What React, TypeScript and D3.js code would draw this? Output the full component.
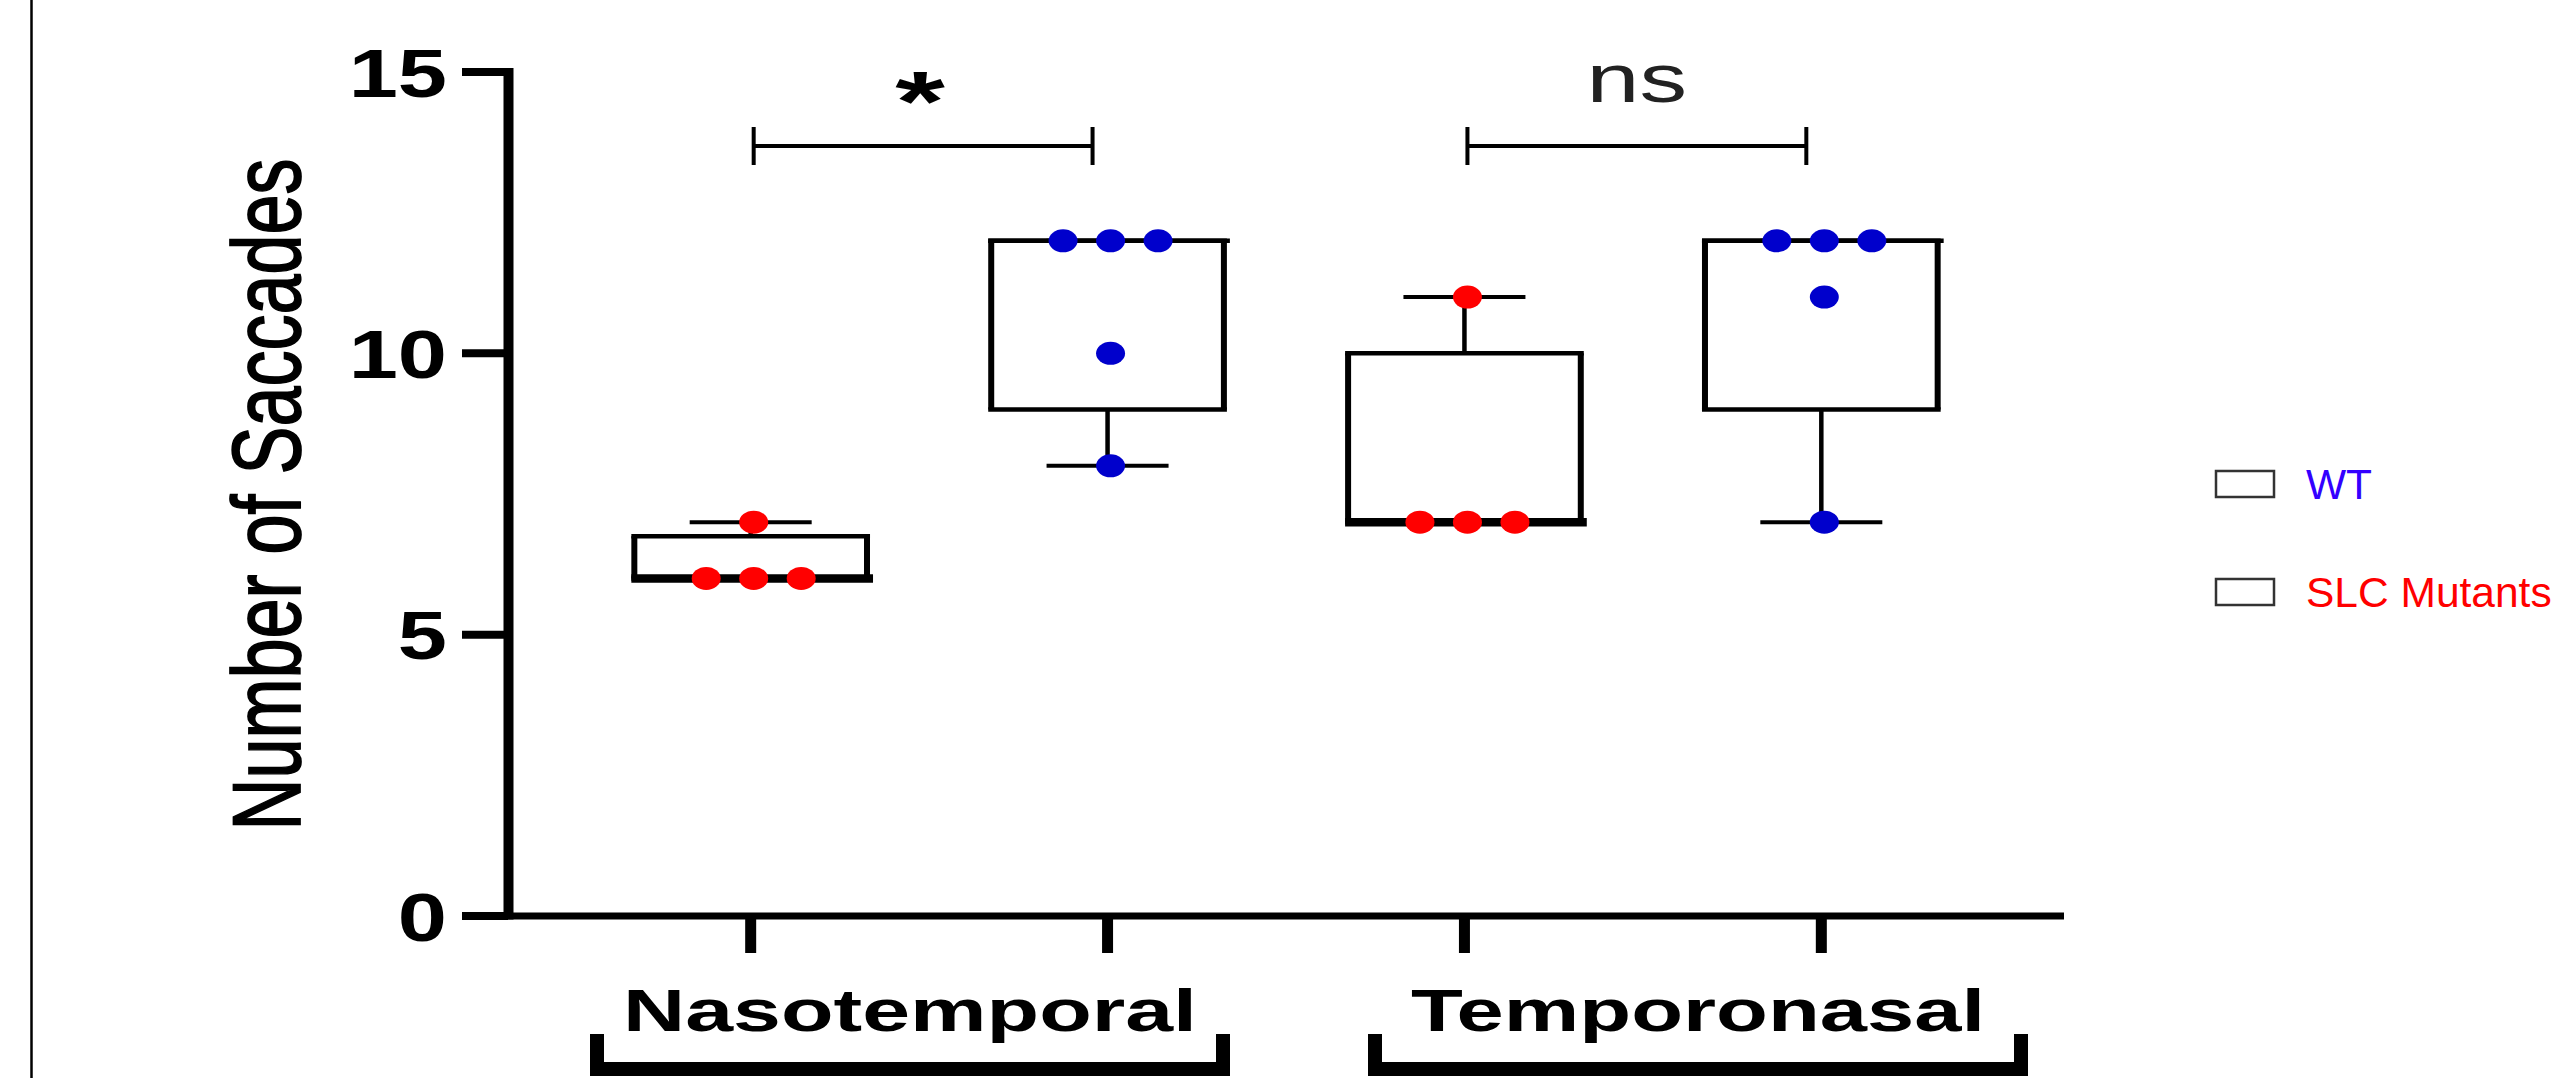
import React from "react";
import * as d3 from "d3";

// ---- data ----
const boxIds = ["naso-slc", "naso-wt", "temp-slc", "temp-wt"];
const boxGenotype = ["SLC Mutants", "WT", "SLC Mutants", "WT"];
const nasoSLC = [6, 6, 6, 7];
const nasoWT = [12, 12, 12, 10, 8];
const tempSLC = [7, 7, 7, 11];
const tempWT = [12, 12, 12, 11, 7];
const boxValues = [nasoSLC, nasoWT, tempSLC, tempWT];

const groupNames = ["Nasotemporal", "Temporonasal"];

const yTicks = [0, 5, 10, 15];
const yTitle = "Number of Saccades";

const sigLabels = ["*", "ns"];
const sigPairs = [[0, 1], [2, 3]];

const legendNames = ["WT", "SLC Mutants"];
const legendColors = ["#3300FF", "#FF0000"];
const dotColors: Record<string, string> = { WT: "#0000CC", "SLC Mutants": "#FF0000" };

// GraphPad-style quartile (n+1 basis)
function quant(sorted: number[], q: number) {
  const n = sorted.length;
  let p = q * (n + 1);
  if (p < 1) p = 1;
  if (p > n) p = n;
  const lo = Math.floor(p);
  const frac = p - lo;
  const a = sorted[lo - 1];
  const b = sorted[Math.min(lo, n - 1)];
  return a + frac * (b - a);
}

export default function App() {
  const W = 2555, H = 1078;
  const y = d3.scaleLinear().domain([0, 15]).range([916, 72]);
  const x = d3.scalePoint<string>().domain(boxIds).range([508, 2064]).padding(0.68);
  const step = x.step();
  const boxW = step * 0.652;
  const capW = 122;
  const dotGap = 47.5;
  const font = "'Liberation Sans', Arial, sans-serif";
  const stretch = 1.35;

  const boxes = boxValues.map((vals, i) => {
    const s = [...vals].sort((a, b) => a - b);
    return {
      id: boxIds[i],
      geno: boxGenotype[i],
      min: s[0],
      max: s[s.length - 1],
      q1: quant(s, 0.25),
      med: quant(s, 0.5),
      q3: quant(s, 0.75),
      vals,
    };
  });

  const groupCenters = [910, 1698];
  const groupHalf = [320, 330];

  return (
    <svg
      width={W}
      height={H}
      style={{ position: "fixed", left: 0, top: 0, background: "#fff" }}
      xmlns="http://www.w3.org/2000/svg"
    >
      <rect x={0} y={0} width={W} height={H} fill="#fff" />
      {/* left border */}
      <line x1={31.5} x2={31.5} y1={0} y2={H} stroke="#000" strokeWidth={2.5} />

      {/* y axis */}
      <line x1={508.5} x2={508.5} y1={y(15) - 4} y2={y(0) + 3.5} stroke="#000" strokeWidth={10} />
      {yTicks.map((t) => (
        <g key={t}>
          <line x1={462} x2={508} y1={y(t)} y2={y(t)} stroke="#000" strokeWidth={8} />
          <text
            transform={`translate(447,${y(t) + 24.5}) scale(1.3,1)`}
            textAnchor="end"
            fontFamily={font}
            fontWeight="bold"
            fontSize={68}
            fill="#000"
          >
            {t}
          </text>
        </g>
      ))}
      <text
        transform={`translate(300,494.5) scale(${stretch},1) rotate(-90)`}
        textAnchor="middle"
        fontFamily={font}
        fontSize={72}
        fill="#000"
        stroke="#000"
        strokeWidth={1.3}
      >
        {yTitle}
      </text>

      {/* x axis */}
      <line x1={504} x2={2064} y1={y(0)} y2={y(0)} stroke="#000" strokeWidth={7} />
      {boxIds.map((id) => (
        <line key={id} x1={x(id)!} x2={x(id)!} y1={y(0)} y2={953} stroke="#000" strokeWidth={11} />
      ))}

      {/* boxes */}
      {boxes.map((b) => {
        const cx = x(b.id)!;
        const l = cx - boxW / 2, r = cx + boxW / 2;
        const counts: Record<number, number> = {};
        b.vals.forEach((v) => (counts[v] = (counts[v] || 0) + 1));
        const seen: Record<number, number> = {};
        const dots = b.vals.map((v) => {
          const k = seen[v] || 0;
          seen[v] = k + 1;
          const off = (k - (counts[v] - 1) / 2) * dotGap;
          return { v, dx: cx + off + 3 };
        });
        return (
          <g key={b.id}>
            {b.max > b.q3 && (
              <line x1={cx} x2={cx} y1={y(b.max)} y2={y(b.q3)} stroke="#000" strokeWidth={4.5} />
            )}
            {b.min < b.q1 && (
              <line x1={cx} x2={cx} y1={y(b.min)} y2={y(b.q1)} stroke="#000" strokeWidth={4.5} />
            )}
            <line x1={cx - capW / 2} x2={cx + capW / 2} y1={y(b.max)} y2={y(b.max)} stroke="#000" strokeWidth={4} />
            <line x1={cx - capW / 2} x2={cx + capW / 2} y1={y(b.min)} y2={y(b.min)} stroke="#000" strokeWidth={4} />
            <line x1={l - 3} x2={r + 3} y1={y(b.q3)} y2={y(b.q3)} stroke="#000" strokeWidth={4.5} />
            <line x1={l - 3} x2={r + 3} y1={y(b.q1)} y2={y(b.q1)} stroke="#000" strokeWidth={4.5} />
            <line x1={l} x2={l} y1={y(b.q3)} y2={y(b.q1)} stroke="#000" strokeWidth={6} />
            <line x1={r} x2={r} y1={y(b.q3)} y2={y(b.q1)} stroke="#000" strokeWidth={6} />
            <line x1={l - 3} x2={r + 6} y1={y(b.med)} y2={y(b.med)} stroke="#000" strokeWidth={b.med === b.q3 ? 4.5 : 8.5} />
            {dots.map((d, i) => (
              <ellipse key={i} cx={d.dx} cy={y(d.v)} rx={14.5} ry={11.5} fill={dotColors[b.geno]} />
            ))}
          </g>
        );
      })}

      {/* significance brackets */}
      {sigPairs.map(([a, c], i) => {
        const x1 = x(boxIds[a])! + 3;
        const x2 = x(boxIds[c])! - 15;
        const yb = 146;
        return (
          <g key={i}>
            <path d={`M${x1},127V165M${x1},${yb}H${x2}M${x2},127V165`} stroke="#000" strokeWidth={4} fill="none" />
            {sigLabels[i] === "*" ? (
              <text
                transform={`translate(${(x1 + x2) / 2 - 3},131) scale(1.5,1)`}
                textAnchor="middle"
                fontFamily={font}
                fontWeight="bold"
                fontSize={85}
                fill="#000"
              >
                {sigLabels[i]}
              </text>
            ) : (
              <text
                transform={`translate(${(x1 + x2) / 2},102) scale(1.4,1)`}
                textAnchor="middle"
                fontFamily={font}
                fontSize={68}
                fill="#222"
              >
                {sigLabels[i]}
              </text>
            )}
          </g>
        );
      })}

      {/* group labels & brackets */}
      {groupNames.map((g, i) => {
        const c = groupCenters[i];
        const hw = groupHalf[i];
        return (
          <g key={g}>
            <text
              x={c}
              y={1031}
              textAnchor="middle"
              fontFamily={font}
              fontWeight="bold"
              fontSize={60}
              textLength={574}
              lengthAdjust="spacingAndGlyphs"
              fill="#000"
            >
              {g}
            </text>
            <path
              d={`M${c - hw + 7},1034V1069H${c + hw - 7}V1034`}
              stroke="#000"
              strokeWidth={14}
              fill="none"
              strokeLinejoin="miter"
            />
          </g>
        );
      })}

      {/* legend */}
      {legendNames.map((n, i) => {
        const ly = [471, 579][i];
        return (
          <g key={n}>
            <rect x={2216} y={ly} width={58} height={26} fill="#fff" stroke="#333" strokeWidth={2.5} />
            <text x={2306} y={ly + 28} fontFamily={font} fontSize={42.5} fill={legendColors[i]}>
              {n}
            </text>
          </g>
        );
      })}
    </svg>
  );
}
